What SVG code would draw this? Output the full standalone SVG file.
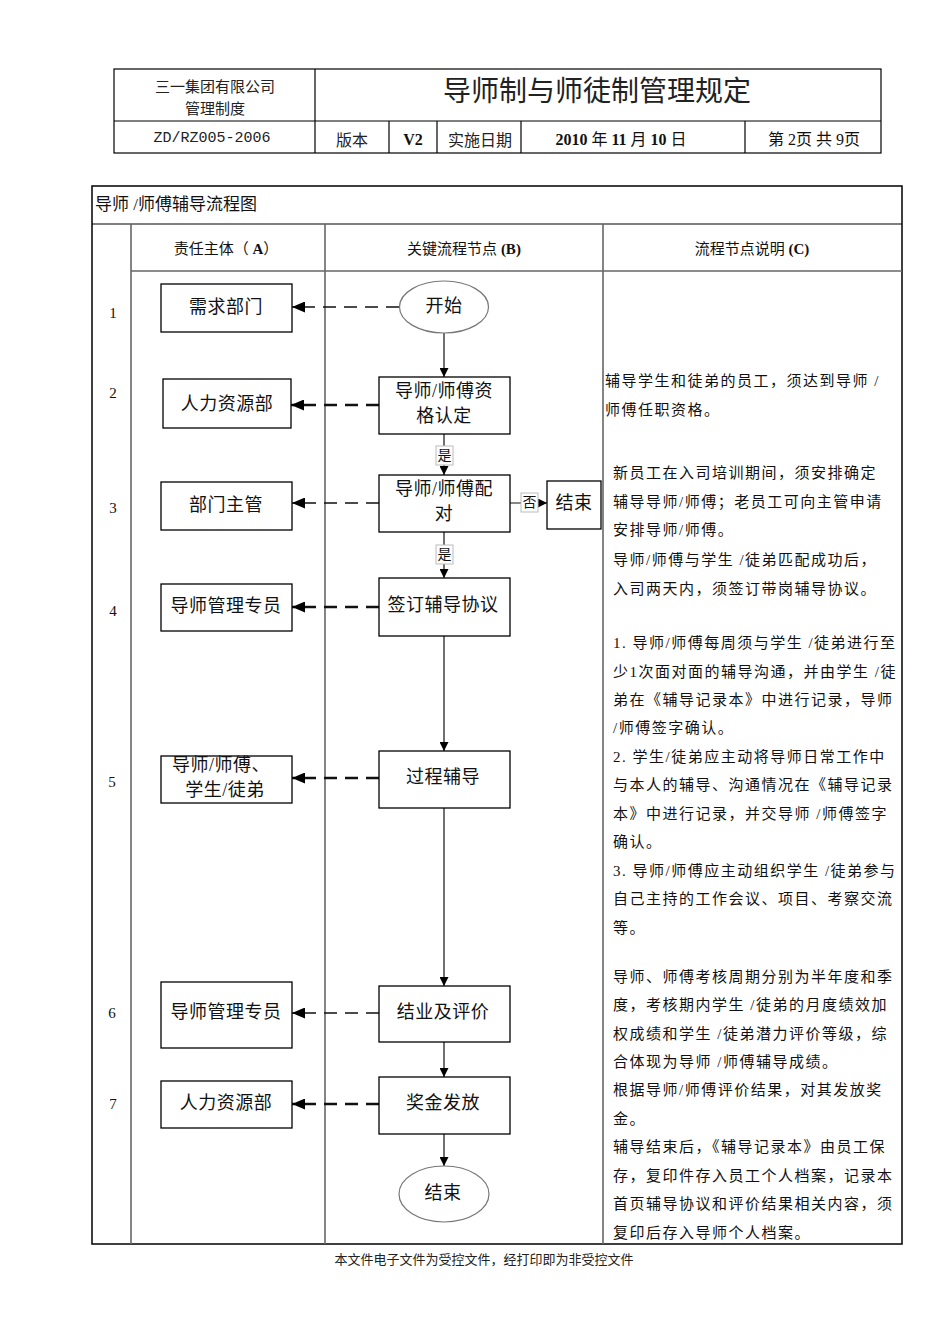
<svg xmlns="http://www.w3.org/2000/svg" width="950" height="1344" viewBox="0 0 950 1344">
<style>
.ln{stroke:#000;stroke-width:1.2;fill:none}
.gl{stroke:#666;stroke-width:1.6;fill:none}
.bx{stroke:#000;stroke-width:1.3;fill:#fff}
.el{stroke:#777;stroke-width:1.2;fill:#fff}
.lb{stroke:#bbb;stroke-width:1;fill:#fff}
.t{font-family:"Liberation Serif","Noto Sans CJK SC",serif;fill:#111;dominant-baseline:central}
.s{font-family:"Noto Sans CJK SC","Liberation Sans",sans-serif;fill:#222;dominant-baseline:central}
.nd{font-size:18px;text-anchor:middle;letter-spacing:0.5px}
.p{font-size:15px;letter-spacing:1.5px}
.c{text-anchor:middle}
.dh{stroke:#111;stroke-width:2.4;stroke-dasharray:13 8;fill:none}
.dl{stroke:#111;stroke-width:1.3;stroke-dasharray:13 8;fill:none}
.ar{stroke:#111;stroke-width:1.2;fill:none}
</style>
<defs>
<marker id="ah" markerUnits="userSpaceOnUse" markerWidth="13" markerHeight="11" refX="13" refY="5.5" orient="auto"><path d="M0,0 L13,5.5 L0,11 z" fill="#000"/></marker>
<marker id="as" markerUnits="userSpaceOnUse" markerWidth="9" markerHeight="9" refX="9" refY="4.5" orient="auto"><path d="M0,0 L9,4.5 L0,9 z" fill="#000"/></marker>
</defs>
<rect width="950" height="1344" fill="#fff"/>

<!-- header table -->
<g id="header">
<rect x="114" y="69" width="767" height="84" class="ln"/>
<line x1="114" y1="121" x2="881" y2="121" class="ln"/>
<line x1="315" y1="69" x2="315" y2="153" class="ln"/>
<line x1="389" y1="121" x2="389" y2="153" class="ln"/>
<line x1="437" y1="121" x2="437" y2="153" class="ln"/>
<line x1="521" y1="121" x2="521" y2="153" class="ln"/>
<line x1="745" y1="121" x2="745" y2="153" class="ln"/>
<text x="215" y="85" class="s c" font-size="15">三一集团有限公司</text>
<text x="215" y="107" class="s c" font-size="15">管理制度</text>
<text x="597" y="89" class="s c" font-size="28">导师制与师徒制管理规定</text>
<text x="212" y="138" class="c" font-family="Liberation Mono,monospace" font-size="15" fill="#222" dominant-baseline="central">ZD/RZ005-2006</text>
<text x="352" y="139" class="s c" font-size="16">版本</text>
<text x="413" y="139" class="t c" font-size="16" font-weight="bold">V2</text>
<text x="480" y="139" class="s c" font-size="16">实施日期</text>
<text x="621" y="139" class="t c" font-size="16"><tspan font-weight="bold">2010</tspan> 年 <tspan font-weight="bold">11</tspan> 月 <tspan font-weight="bold">10</tspan> 日</text>
<text x="814" y="139" class="t c" font-size="16">第 2页 共 9页</text>
</g>

<!-- main table -->
<g id="table">
<rect x="92" y="186" width="810" height="1058" fill="none" stroke="#000" stroke-width="1.5"/>
<line x1="92" y1="224" x2="902" y2="224" class="ln"/>
<line x1="131" y1="271" x2="902" y2="271" class="gl"/>
<line x1="131" y1="224" x2="131" y2="1244" class="gl"/>
<line x1="325" y1="224" x2="325" y2="1244" class="gl"/>
<line x1="603" y1="224" x2="603" y2="1244" class="gl"/>
<text x="95" y="204" class="t" font-size="17">导师 /师傅辅导流程图</text>
<text x="226" y="249" class="t c" font-size="15">责任主体（ <tspan font-weight="bold">A</tspan>）</text>
<text x="464" y="249" class="t c" font-size="15">关键流程节点 <tspan font-weight="bold">(B)</tspan></text>
<text x="752" y="249" class="t c" font-size="15">流程节点说明 <tspan font-weight="bold">(C)</tspan></text>
<text x="113" y="313" class="t c" font-size="15">1</text>
<text x="113" y="393" class="t c" font-size="15">2</text>
<text x="113" y="508" class="t c" font-size="15">3</text>
<text x="113" y="611" class="t c" font-size="15">4</text>
<text x="112" y="782" class="t c" font-size="15">5</text>
<text x="112" y="1013" class="t c" font-size="15">6</text>
<text x="113" y="1104" class="t c" font-size="15">7</text>
</g>

<!-- connectors -->
<g id="connectors">
<line x1="399" y1="307" x2="292" y2="307" class="dl" marker-end="url(#ah)"/>
<line x1="379" y1="405" x2="291" y2="405" class="dh" marker-end="url(#ah)"/>
<line x1="379" y1="503" x2="292" y2="503" class="dl" marker-end="url(#ah)"/>
<line x1="379" y1="607" x2="292" y2="607" class="dh" marker-end="url(#ah)"/>
<line x1="379" y1="778" x2="292" y2="778" class="dh" marker-end="url(#ah)"/>
<line x1="379" y1="1013" x2="292" y2="1013" class="dl" marker-end="url(#ah)"/>
<line x1="379" y1="1104" x2="292" y2="1104" class="dh" marker-end="url(#ah)"/>
<line x1="444" y1="333" x2="444" y2="377" class="ar" marker-end="url(#as)"/>
<line x1="444" y1="434" x2="444" y2="475" class="ar" marker-end="url(#as)"/>
<line x1="444" y1="532" x2="444" y2="578" class="ar" marker-end="url(#as)"/>
<line x1="444" y1="636" x2="444" y2="751" class="ar" marker-end="url(#as)"/>
<line x1="444" y1="808" x2="444" y2="986" class="ar" marker-end="url(#as)"/>
<line x1="444" y1="1042" x2="444" y2="1077" class="ar" marker-end="url(#as)"/>
<line x1="444" y1="1134" x2="444" y2="1166" class="ar" marker-end="url(#as)"/>
<line x1="510" y1="503" x2="547" y2="503" class="ar" marker-end="url(#as)"/>
<g id="label-yes1"><rect x="436" y="446" width="17" height="19" class="lb"/><text x="444.5" y="455.5" class="t c" font-size="14">是</text></g>
<g id="label-yes2"><rect x="436" y="545" width="17" height="19" class="lb"/><text x="444.5" y="554.5" class="t c" font-size="14">是</text></g>
<g id="label-no"><rect x="521" y="493" width="17" height="19" class="lb"/><text x="529.5" y="502.5" class="t c" font-size="14">否</text></g>
</g>

<!-- nodes column A -->
<g id="a1"><rect x="161" y="284" width="131" height="48" class="bx"/><text x="226" y="307" class="t nd">需求部门</text></g>
<g id="a2"><rect x="163" y="379" width="128" height="49" class="bx"/><text x="227" y="404" class="t nd">人力资源部</text></g>
<g id="a3"><rect x="161" y="482" width="131" height="48" class="bx"/><text x="226" y="505" class="t nd">部门主管</text></g>
<g id="a4"><rect x="161" y="584" width="131" height="47" class="bx"/><text x="226" y="606" class="t nd">导师管理专员</text></g>
<g id="a5"><rect x="161" y="756" width="131" height="47" class="bx"/><text x="221" y="765" class="t nd">导师/师傅、</text><text x="225" y="790" class="t nd">学生/徒弟</text></g>
<g id="a6"><rect x="161" y="982" width="131" height="66" class="bx"/><text x="226" y="1012" class="t nd">导师管理专员</text></g>
<g id="a7"><rect x="161" y="1081" width="131" height="47" class="bx"/><text x="226" y="1103" class="t nd">人力资源部</text></g>

<!-- nodes column B -->
<g id="start"><ellipse cx="444" cy="307" rx="44.5" ry="26" class="el"/><text x="444" y="306" class="t nd">开始</text></g>
<g id="b2"><rect x="379" y="377" width="131" height="57" class="bx"/><text x="444" y="391" class="t nd">导师/师傅资</text><text x="444" y="416" class="t nd">格认定</text></g>
<g id="b3"><rect x="379" y="475" width="131" height="57" class="bx"/><text x="444" y="489" class="t nd">导师/师傅配</text><text x="444" y="514" class="t nd">对</text></g>
<g id="end1"><rect x="547" y="481" width="54" height="48" class="bx"/><text x="574" y="503" class="t nd">结束</text></g>
<g id="b4"><rect x="379" y="578" width="131" height="58" class="bx"/><text x="443" y="605" class="t nd">签订辅导协议</text></g>
<g id="b5"><rect x="379" y="751" width="131" height="57" class="bx"/><text x="443" y="777" class="t nd">过程辅导</text></g>
<g id="b6"><rect x="379" y="986" width="131" height="56" class="bx"/><text x="443" y="1012" class="t nd">结业及评价</text></g>
<g id="b7"><rect x="379" y="1077" width="131" height="57" class="bx"/><text x="443" y="1103" class="t nd">奖金发放</text></g>
<g id="end2"><ellipse cx="444" cy="1194" rx="45" ry="28" class="el"/><text x="443" y="1193" class="t nd">结束</text></g>

<!-- column C texts -->
<g id="notes">
<text x="605" y="381" class="t p">辅导学生和徒弟的员工，须达到导师 /</text>
<text x="605" y="410" class="t p">师傅任职资格。</text>
<text x="613" y="473" class="t p">新员工在入司培训期间，须安排确定</text>
<text x="613" y="502" class="t p">辅导导师/师傅；老员工可向主管申请</text>
<text x="613" y="530" class="t p">安排导师/师傅。</text>
<text x="613" y="560" class="t p">导师/师傅与学生 /徒弟匹配成功后，</text>
<text x="613" y="589" class="t p">入司两天内，须签订带岗辅导协议。</text>
<text x="613" y="643" class="t p">1. 导师/师傅每周须与学生 /徒弟进行至</text>
<text x="613" y="672" class="t p">少1次面对面的辅导沟通，并由学生 /徒</text>
<text x="613" y="700" class="t p">弟在《辅导记录本》中进行记录，导师</text>
<text x="613" y="728" class="t p">/师傅签字确认。</text>
<text x="613" y="757" class="t p">2. 学生/徒弟应主动将导师日常工作中</text>
<text x="613" y="785" class="t p">与本人的辅导、沟通情况在《辅导记录</text>
<text x="613" y="814" class="t p">本》中进行记录，并交导师 /师傅签字</text>
<text x="613" y="842" class="t p">确认。</text>
<text x="613" y="871" class="t p">3. 导师/师傅应主动组织学生 /徒弟参与</text>
<text x="613" y="899" class="t p">自己主持的工作会议、项目、考察交流</text>
<text x="613" y="928" class="t p">等。</text>
<text x="613" y="977" class="t p">导师、师傅考核周期分别为半年度和季</text>
<text x="613" y="1005" class="t p">度，考核期内学生 /徒弟的月度绩效加</text>
<text x="613" y="1034" class="t p">权成绩和学生 /徒弟潜力评价等级，综</text>
<text x="613" y="1062" class="t p">合体现为导师 /师傅辅导成绩。</text>
<text x="613" y="1090" class="t p">根据导师/师傅评价结果，对其发放奖</text>
<text x="613" y="1119" class="t p">金。</text>
<text x="613" y="1147" class="t p">辅导结束后，《辅导记录本》由员工保</text>
<text x="613" y="1176" class="t p">存，复印件存入员工个人档案，记录本</text>
<text x="613" y="1204" class="t p">首页辅导协议和评价结果相关内容，须</text>
<text x="613" y="1233" class="t p">复印后存入导师个人档案。</text>
</g>

<text x="484" y="1258" class="s c" font-size="13">本文件电子文件为受控文件，经打印即为非受控文件</text>
</svg>
